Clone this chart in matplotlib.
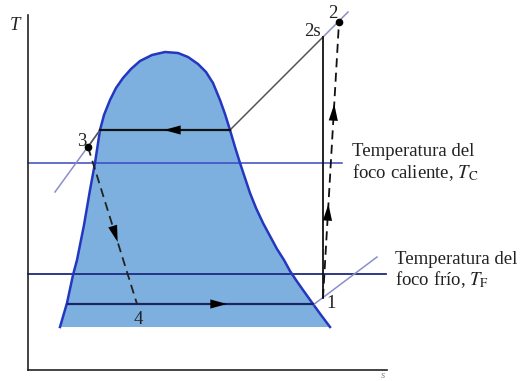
import matplotlib
matplotlib.use('agg')
from matplotlib import pyplot as plt

# saturation dome (s, T), left branch -> right branch
DOME_S = [32, 39, 45, 49, 56, 62, 67, 72, 76, 82, 88, 95, 103, 112, 124, 137,
          150, 160, 170, 178, 185, 192, 197, 202, 207, 212, 217, 222, 228, 235,
          242, 249, 256, 262, 268, 275, 280, 285, 293, 302]
DOME_T = [43, 67, 95, 110, 145, 180, 207, 240, 255, 270, 282, 292, 301, 309, 315, 318,
          317, 313, 306, 298, 287, 270, 256, 240, 223, 207, 192, 177, 162, 147,
          134, 121, 110, 99, 90, 80, 73, 66, 55, 43]
DOME_BASE = 43

# cycle states
S1, T1 = 295, 72
S2S, T2S = 295, 333
S2, T2 = 311, 348
S3, T3 = 60, 223
S4, T4 = 109, 66
SF, SG, T_COND = 72, 202, 240      # condenser plateau
SL_EVAP, SV_EVAP = 40, 285         # evaporator line ends
T_HOT, T_COLD = 207, 96            # reservoir temperatures
S_HOT_END, S_COLD_END = 314, 358

# isobars through states 2, 3 and 1
HIGH_P_S = [SG, S2S, 320]
HIGH_P_T = [T_COND, T2S, 358]
LIQ_S = [27, SF]
LIQ_T = [178, T_COND]
LOW_P_S = [SV_EVAP, 349]
LOW_P_T = [65, 113]

W, H = 521, 381
fig = plt.figure(figsize=(W / 100, H / 100), dpi=100)
ax = fig.add_axes([28 / W, 11 / H, 359 / W, 355 / H])
ax.set_xlim(0, 359)
ax.set_ylim(0, 355)
for side in ('top', 'right'):
    ax.spines[side].set_visible(False)
for side in ('left', 'bottom'):
    ax.spines[side].set_color('#222222')
    ax.spines[side].set_linewidth(1.2)
ax.set_xticks([])
ax.set_yticks([])

plt.rcParams['mathtext.fontset'] = 'stix'
serif = 'Liberation Serif'

blue_fill = '#7db0de'
blue_edge = '#2437c0'

ax.fill(DOME_S + [DOME_S[-1], DOME_S[0]], DOME_T + [DOME_BASE, DOME_BASE],
        color=blue_fill, lw=0, zorder=1)
ax.plot(DOME_S, DOME_T, color=blue_edge, lw=1.8, zorder=3, solid_joinstyle='round')

# reservoir temperature lines
ax.plot([0, S_HOT_END], [T_HOT, T_HOT], color='#3848c0', lw=1.1, zorder=2, clip_on=False)
ax.plot([0, S_COLD_END], [T_COLD, T_COLD], color='#1c2a80', lw=1.3, zorder=2, clip_on=False)

# isobars
ax.plot(HIGH_P_S[:2], HIGH_P_T[:2], color='#555555', lw=1.1, zorder=4)
ax.plot(HIGH_P_S[1:], HIGH_P_T[1:], color='#8a8fc8', lw=1.1, zorder=4, clip_on=False)
ax.plot(LIQ_S, LIQ_T, color='#8a8fc8', lw=1.1, zorder=4)
ax.plot([S3, SF], [T3, T_COND], color='#555555', lw=1.1, zorder=4)
ax.plot(LOW_P_S, LOW_P_T, color='#8a8fc8', lw=1.1, zorder=4)

# condenser and evaporator
ax.plot([SF, SG], [T_COND, T_COND], color='#111111', lw=1.6, zorder=5)
ax.plot([SL_EVAP, SV_EVAP], [T4, T4], color='#1a2466', lw=1.6, zorder=5)

# compression: ideal and real
ax.plot([S1, S2S], [T1, T2S], color='#111111', lw=1.3, zorder=5)
ax.plot([S1, S2], [T1, T2], color='#111111', lw=1.3, ls=(0, (5, 3)), zorder=5, clip_on=False)
# expansion
ax.plot([S3, S4], [T3, T4], color='#222222', lw=1.3, ls=(0, (5, 3)), zorder=5)

ax.plot([S2, S3], [T2, T3], 'o', color='black', ms=4.5, zorder=6, clip_on=False)


def arrow(s0, t0, s1, t1):
    ax.annotate('', xy=(s1, t1), xytext=(s0, t0),
                arrowprops=dict(arrowstyle='-|>,head_length=0.8,head_width=0.22',
                                color='black', lw=0, shrinkA=0, shrinkB=0,
                                mutation_scale=15),
                zorder=7)


arrow(152, T_COND, 136, T_COND)
arrow(182, T4, 199, T4)


def on_line(sa, ta, sb, tb, t):
    return sa + (sb - sa) * (t - ta) / (tb - ta)


for t in (158, 258):
    arrow(on_line(S1, T1, S2, T2, t - 10), t - 10, on_line(S1, T1, S2, T2, t + 8), t + 8)
arrow(on_line(S3, T3, S4, T4, 150), 150, on_line(S3, T3, S4, T4, 128), 128)

fs = 13.5
txt = dict(family=serif, fontsize=fs, color='#222222', clip_on=False)
ax.text(-13, 345, 'T', style='italic', ha='center', va='center', **txt)
ax.text(355, -6, 's', style='italic', ha='center', va='center',
        family=serif, fontsize=8, color='#888888', clip_on=False)
ax.text(284, 338, '2s', ha='center', va='center', **txt)
ax.text(305, 356, '2', ha='center', va='center', **txt)
ax.text(54, 229, '3', ha='center', va='center', **txt)
ax.text(110, 51, '4', ha='center', va='center', **txt)
ax.text(303, 66, '1', ha='center', va='center', **txt)

ax.text(324, 218, 'Temperatura del', ha='left', va='center', **txt)
ax.text(324, 197, r'foco caliente, $T_{\mathrm{C}}$', ha='left', va='center', **txt)
ax.text(367, 110, 'Temperatura del', ha='left', va='center', **txt)
ax.text(367, 90, r'foco frío, $T_{\mathrm{F}}$', ha='left', va='center', **txt)

fig.savefig('out.png', dpi=100)
